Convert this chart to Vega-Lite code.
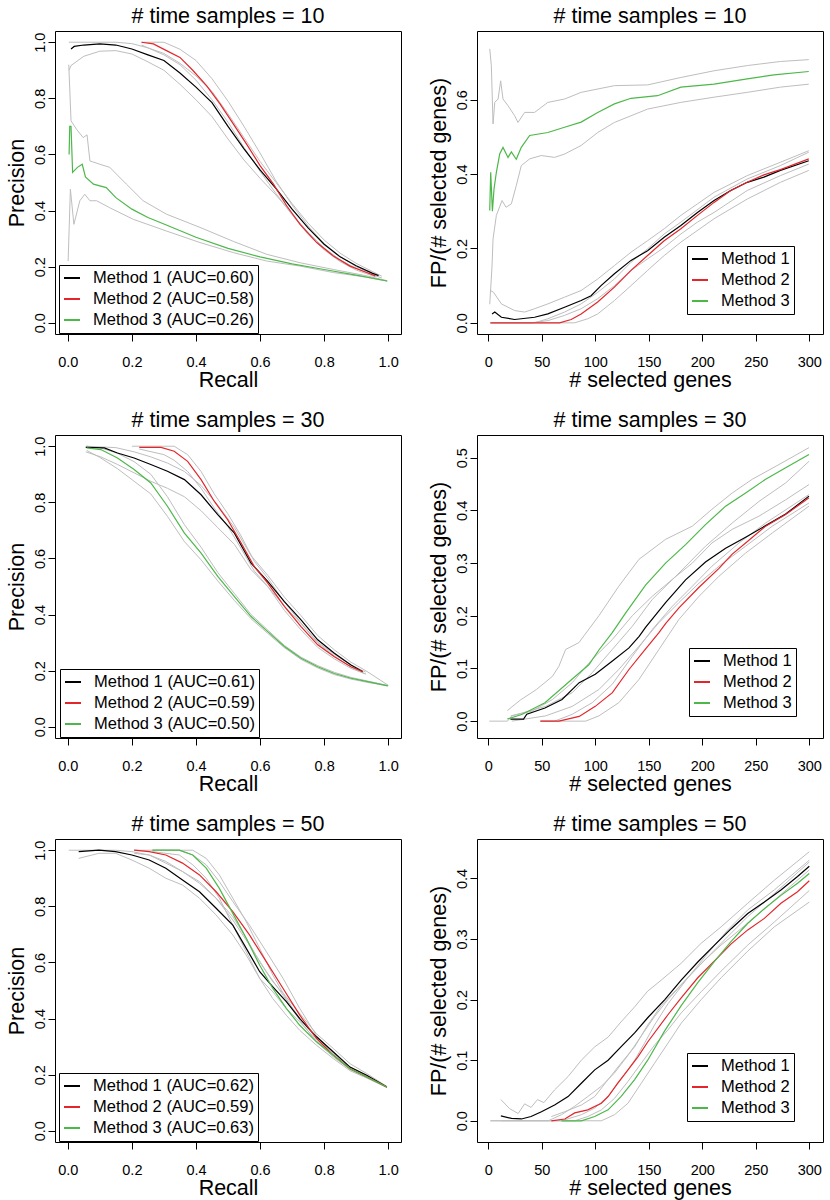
{
"$schema":"https://vega.github.io/schema/vega-lite/v6.json",
"background":"white",
"padding":{"left":5,"top":5,"right":5,"bottom":5},
"config":{
 "font":"Liberation Sans",
 "view":{"stroke":"#000","strokeWidth":1},
 "axis":{"grid":false,"domain":false,"ticks":true,"tickColor":"#000","tickSize":7,"tickWidth":1,"labelFont":"Liberation Sans","labelFontSize":14.5,"labelColor":"#000","titleFont":"Liberation Sans","titleFontSize":21.5,"titleFontWeight":"normal","titleColor":"#000","labelFlush":false,"labelOverlap":false},
 "axisX":{"labelPadding":14,"titlePadding":1},
 "axisY":{"labelAngle":-90,"labelAlign":"center","labelBaseline":"bottom","labelPadding":1,"titlePadding":4},
 "title":{"font":"Liberation Sans","fontSize":21.5,"fontWeight":"normal","color":"#000","offset":4,"baseline":"alphabetic","anchor":"middle","frame":"group"},
 "legend":{"labelFont":"Liberation Sans","labelFontSize":16.5,"labelColor":"#000","symbolType":"stroke","symbolStrokeWidth":2,"symbolSize":256,"strokeColor":"#000","fillColor":"#fff","padding":4,"rowPadding":3,"labelOffset":12,"labelLimit":400,"cornerRadius":0}
},
"datasets":{
"leg1":[{"m":1,"label":"Method 1 (AUC=0.60)"},{"m":2,"label":"Method 2 (AUC=0.58)"},{"m":3,"label":"Method 3 (AUC=0.26)"}],
"leg3":[{"m":1,"label":"Method 1 (AUC=0.61)"},{"m":2,"label":"Method 2 (AUC=0.59)"},{"m":3,"label":"Method 3 (AUC=0.50)"}],
"leg5":[{"m":1,"label":"Method 1 (AUC=0.62)"},{"m":2,"label":"Method 2 (AUC=0.59)"},{"m":3,"label":"Method 3 (AUC=0.63)"}],
"legR":[{"m":1,"label":"Method 1"},{"m":2,"label":"Method 2"},{"m":3,"label":"Method 3"}],
"curves":[
{"p":1,"m":1,"b":"e","x":0.01,"y":0.976},{"p":1,"m":1,"b":"e","x":0.02,"y":0.985},{"p":1,"m":1,"b":"e","x":0.05,"y":0.99},{"p":1,"m":1,"b":"e","x":0.1,"y":0.994},{"p":1,"m":1,"b":"e","x":0.15,"y":0.99},{"p":1,"m":1,"b":"e","x":0.2,"y":0.976},{"p":1,"m":1,"b":"e","x":0.25,"y":0.955},{"p":1,"m":1,"b":"e","x":0.3,"y":0.935},{"p":1,"m":1,"b":"e","x":0.35,"y":0.89},{"p":1,"m":1,"b":"e","x":0.4,"y":0.84},{"p":1,"m":1,"b":"e","x":0.45,"y":0.785},{"p":1,"m":1,"b":"e","x":0.5,"y":0.7},{"p":1,"m":1,"b":"e","x":0.55,"y":0.62},{"p":1,"m":1,"b":"e","x":0.6,"y":0.545},{"p":1,"m":1,"b":"e","x":0.65,"y":0.478},{"p":1,"m":1,"b":"e","x":0.7,"y":0.405},{"p":1,"m":1,"b":"e","x":0.75,"y":0.338},{"p":1,"m":1,"b":"e","x":0.8,"y":0.28},{"p":1,"m":1,"b":"e","x":0.85,"y":0.235},{"p":1,"m":1,"b":"e","x":0.9,"y":0.203},{"p":1,"m":1,"b":"e","x":0.95,"y":0.177},{"p":1,"m":1,"b":"e","x":0.97,"y":0.168},
{"p":1,"m":1,"b":"u","x":0.003,"y":1.0},{"p":1,"m":1,"b":"u","x":0.15,"y":1.0},{"p":1,"m":1,"b":"u","x":0.2,"y":0.995},{"p":1,"m":1,"b":"u","x":0.25,"y":0.98},{"p":1,"m":1,"b":"u","x":0.3,"y":0.96},{"p":1,"m":1,"b":"u","x":0.35,"y":0.925},{"p":1,"m":1,"b":"u","x":0.4,"y":0.88},{"p":1,"m":1,"b":"u","x":0.45,"y":0.825},{"p":1,"m":1,"b":"u","x":0.5,"y":0.745},{"p":1,"m":1,"b":"u","x":0.55,"y":0.66},{"p":1,"m":1,"b":"u","x":0.6,"y":0.575},{"p":1,"m":1,"b":"u","x":0.65,"y":0.5},{"p":1,"m":1,"b":"u","x":0.7,"y":0.425},{"p":1,"m":1,"b":"u","x":0.75,"y":0.355},{"p":1,"m":1,"b":"u","x":0.8,"y":0.295},{"p":1,"m":1,"b":"u","x":0.85,"y":0.248},{"p":1,"m":1,"b":"u","x":0.9,"y":0.212},{"p":1,"m":1,"b":"u","x":0.95,"y":0.183},{"p":1,"m":1,"b":"u","x":0.98,"y":0.166},
{"p":1,"m":1,"b":"l","x":0.004,"y":0.9},{"p":1,"m":1,"b":"l","x":0.01,"y":0.917},{"p":1,"m":1,"b":"l","x":0.05,"y":0.95},{"p":1,"m":1,"b":"l","x":0.1,"y":0.968},{"p":1,"m":1,"b":"l","x":0.15,"y":0.97},{"p":1,"m":1,"b":"l","x":0.2,"y":0.958},{"p":1,"m":1,"b":"l","x":0.25,"y":0.93},{"p":1,"m":1,"b":"l","x":0.3,"y":0.9},{"p":1,"m":1,"b":"l","x":0.35,"y":0.85},{"p":1,"m":1,"b":"l","x":0.4,"y":0.795},{"p":1,"m":1,"b":"l","x":0.45,"y":0.735},{"p":1,"m":1,"b":"l","x":0.5,"y":0.655},{"p":1,"m":1,"b":"l","x":0.55,"y":0.58},{"p":1,"m":1,"b":"l","x":0.6,"y":0.515},{"p":1,"m":1,"b":"l","x":0.65,"y":0.455},{"p":1,"m":1,"b":"l","x":0.7,"y":0.388},{"p":1,"m":1,"b":"l","x":0.75,"y":0.322},{"p":1,"m":1,"b":"l","x":0.8,"y":0.267},{"p":1,"m":1,"b":"l","x":0.85,"y":0.224},{"p":1,"m":1,"b":"l","x":0.9,"y":0.194},{"p":1,"m":1,"b":"l","x":0.95,"y":0.171},{"p":1,"m":1,"b":"l","x":0.98,"y":0.16},
{"p":1,"m":2,"b":"e","x":0.23,"y":1.0},{"p":1,"m":2,"b":"e","x":0.267,"y":0.994},{"p":1,"m":2,"b":"e","x":0.308,"y":0.97},{"p":1,"m":2,"b":"e","x":0.35,"y":0.946},{"p":1,"m":2,"b":"e","x":0.39,"y":0.9},{"p":1,"m":2,"b":"e","x":0.433,"y":0.845},{"p":1,"m":2,"b":"e","x":0.475,"y":0.78},{"p":1,"m":2,"b":"e","x":0.517,"y":0.708},{"p":1,"m":2,"b":"e","x":0.558,"y":0.637},{"p":1,"m":2,"b":"e","x":0.6,"y":0.56},{"p":1,"m":2,"b":"e","x":0.642,"y":0.494},{"p":1,"m":2,"b":"e","x":0.683,"y":0.417},{"p":1,"m":2,"b":"e","x":0.725,"y":0.351},{"p":1,"m":2,"b":"e","x":0.777,"y":0.286},{"p":1,"m":2,"b":"e","x":0.829,"y":0.238},{"p":1,"m":2,"b":"e","x":0.881,"y":0.202},{"p":1,"m":2,"b":"e","x":0.933,"y":0.179},{"p":1,"m":2,"b":"e","x":0.96,"y":0.167},
{"p":1,"m":2,"b":"u","x":0.23,"y":1.0},{"p":1,"m":2,"b":"u","x":0.3,"y":1.0},{"p":1,"m":2,"b":"u","x":0.35,"y":0.975},{"p":1,"m":2,"b":"u","x":0.4,"y":0.935},{"p":1,"m":2,"b":"u","x":0.45,"y":0.87},{"p":1,"m":2,"b":"u","x":0.5,"y":0.79},{"p":1,"m":2,"b":"u","x":0.55,"y":0.7},{"p":1,"m":2,"b":"u","x":0.6,"y":0.605},{"p":1,"m":2,"b":"u","x":0.65,"y":0.505},{"p":1,"m":2,"b":"u","x":0.7,"y":0.42},{"p":1,"m":2,"b":"u","x":0.75,"y":0.345},{"p":1,"m":2,"b":"u","x":0.8,"y":0.282},{"p":1,"m":2,"b":"u","x":0.85,"y":0.236},{"p":1,"m":2,"b":"u","x":0.9,"y":0.2},{"p":1,"m":2,"b":"u","x":0.96,"y":0.17},
{"p":1,"m":2,"b":"l","x":0.23,"y":0.99},{"p":1,"m":2,"b":"l","x":0.3,"y":0.955},{"p":1,"m":2,"b":"l","x":0.35,"y":0.92},{"p":1,"m":2,"b":"l","x":0.4,"y":0.865},{"p":1,"m":2,"b":"l","x":0.45,"y":0.795},{"p":1,"m":2,"b":"l","x":0.5,"y":0.715},{"p":1,"m":2,"b":"l","x":0.55,"y":0.625},{"p":1,"m":2,"b":"l","x":0.6,"y":0.54},{"p":1,"m":2,"b":"l","x":0.65,"y":0.46},{"p":1,"m":2,"b":"l","x":0.7,"y":0.385},{"p":1,"m":2,"b":"l","x":0.75,"y":0.315},{"p":1,"m":2,"b":"l","x":0.8,"y":0.26},{"p":1,"m":2,"b":"l","x":0.85,"y":0.218},{"p":1,"m":2,"b":"l","x":0.9,"y":0.188},{"p":1,"m":2,"b":"l","x":0.96,"y":0.164},
{"p":1,"m":3,"b":"e","x":0.004,"y":0.6},{"p":1,"m":3,"b":"e","x":0.006,"y":0.7},{"p":1,"m":3,"b":"e","x":0.01,"y":0.7},{"p":1,"m":3,"b":"e","x":0.015,"y":0.536},{"p":1,"m":3,"b":"e","x":0.03,"y":0.554},{"p":1,"m":3,"b":"e","x":0.045,"y":0.565},{"p":1,"m":3,"b":"e","x":0.055,"y":0.52},{"p":1,"m":3,"b":"e","x":0.08,"y":0.494},{"p":1,"m":3,"b":"e","x":0.12,"y":0.482},{"p":1,"m":3,"b":"e","x":0.15,"y":0.446},{"p":1,"m":3,"b":"e","x":0.2,"y":0.405},{"p":1,"m":3,"b":"e","x":0.25,"y":0.375},{"p":1,"m":3,"b":"e","x":0.3,"y":0.352},{"p":1,"m":3,"b":"e","x":0.4,"y":0.305},{"p":1,"m":3,"b":"e","x":0.5,"y":0.265},{"p":1,"m":3,"b":"e","x":0.6,"y":0.235},{"p":1,"m":3,"b":"e","x":0.7,"y":0.21},{"p":1,"m":3,"b":"e","x":0.8,"y":0.19},{"p":1,"m":3,"b":"e","x":0.9,"y":0.17},{"p":1,"m":3,"b":"e","x":0.997,"y":0.149},
{"p":1,"m":3,"b":"u","x":0.003,"y":0.92},{"p":1,"m":3,"b":"u","x":0.01,"y":0.72},{"p":1,"m":3,"b":"u","x":0.027,"y":0.69},{"p":1,"m":3,"b":"u","x":0.048,"y":0.66},{"p":1,"m":3,"b":"u","x":0.06,"y":0.67},{"p":1,"m":3,"b":"u","x":0.069,"y":0.577},{"p":1,"m":3,"b":"u","x":0.1,"y":0.565},{"p":1,"m":3,"b":"u","x":0.131,"y":0.554},{"p":1,"m":3,"b":"u","x":0.183,"y":0.494},{"p":1,"m":3,"b":"u","x":0.235,"y":0.435},{"p":1,"m":3,"b":"u","x":0.308,"y":0.387},{"p":1,"m":3,"b":"u","x":0.4125,"y":0.34},{"p":1,"m":3,"b":"u","x":0.517,"y":0.29},{"p":1,"m":3,"b":"u","x":0.621,"y":0.244},{"p":1,"m":3,"b":"u","x":0.725,"y":0.214},{"p":1,"m":3,"b":"u","x":0.829,"y":0.19},{"p":1,"m":3,"b":"u","x":0.93,"y":0.168},{"p":1,"m":3,"b":"u","x":0.997,"y":0.15},
{"p":1,"m":3,"b":"l","x":0.001,"y":0.22},{"p":1,"m":3,"b":"l","x":0.008,"y":0.476},{"p":1,"m":3,"b":"l","x":0.019,"y":0.351},{"p":1,"m":3,"b":"l","x":0.0375,"y":0.435},{"p":1,"m":3,"b":"l","x":0.053,"y":0.458},{"p":1,"m":3,"b":"l","x":0.069,"y":0.435},{"p":1,"m":3,"b":"l","x":0.09,"y":0.435},{"p":1,"m":3,"b":"l","x":0.131,"y":0.41},{"p":1,"m":3,"b":"l","x":0.204,"y":0.369},{"p":1,"m":3,"b":"l","x":0.308,"y":0.327},{"p":1,"m":3,"b":"l","x":0.4125,"y":0.286},{"p":1,"m":3,"b":"l","x":0.517,"y":0.25},{"p":1,"m":3,"b":"l","x":0.621,"y":0.22},{"p":1,"m":3,"b":"l","x":0.725,"y":0.202},{"p":1,"m":3,"b":"l","x":0.829,"y":0.179},{"p":1,"m":3,"b":"l","x":0.93,"y":0.163},{"p":1,"m":3,"b":"l","x":0.997,"y":0.148},

{"p":2,"m":1,"b":"e","x":3.6,"y":0.024},{"p":2,"m":1,"b":"e","x":6.1,"y":0.029},{"p":2,"m":1,"b":"e","x":12.3,"y":0.015},{"p":2,"m":1,"b":"e","x":24.7,"y":0.009},{"p":2,"m":1,"b":"e","x":43.3,"y":0.015},{"p":2,"m":1,"b":"e","x":55.7,"y":0.024},{"p":2,"m":1,"b":"e","x":71.3,"y":0.042},{"p":2,"m":1,"b":"e","x":86.8,"y":0.06},{"p":2,"m":1,"b":"e","x":96.1,"y":0.073},{"p":2,"m":1,"b":"e","x":105.4,"y":0.1},{"p":2,"m":1,"b":"e","x":117.9,"y":0.132},{"p":2,"m":1,"b":"e","x":133.4,"y":0.168},{"p":2,"m":1,"b":"e","x":148.9,"y":0.194},{"p":2,"m":1,"b":"e","x":164.4,"y":0.23},{"p":2,"m":1,"b":"e","x":180,"y":0.262},{"p":2,"m":1,"b":"e","x":195.5,"y":0.297},{"p":2,"m":1,"b":"e","x":211,"y":0.329},{"p":2,"m":1,"b":"e","x":226.6,"y":0.356},{"p":2,"m":1,"b":"e","x":242,"y":0.378},{"p":2,"m":1,"b":"e","x":257.6,"y":0.392},{"p":2,"m":1,"b":"e","x":273,"y":0.41},{"p":2,"m":1,"b":"e","x":299.5,"y":0.436},
{"p":2,"m":1,"b":"u","x":2,"y":0.087},{"p":2,"m":1,"b":"u","x":5,"y":0.082},{"p":2,"m":1,"b":"u","x":12.3,"y":0.051},{"p":2,"m":1,"b":"u","x":24.7,"y":0.033},{"p":2,"m":1,"b":"u","x":34,"y":0.029},{"p":2,"m":1,"b":"u","x":43.3,"y":0.038},{"p":2,"m":1,"b":"u","x":55.7,"y":0.051},{"p":2,"m":1,"b":"u","x":71.3,"y":0.069},{"p":2,"m":1,"b":"u","x":86.8,"y":0.087},{"p":2,"m":1,"b":"u","x":102.3,"y":0.118},{"p":2,"m":1,"b":"u","x":117.9,"y":0.154},{"p":2,"m":1,"b":"u","x":133.4,"y":0.19},{"p":2,"m":1,"b":"u","x":148.9,"y":0.221},{"p":2,"m":1,"b":"u","x":164.4,"y":0.253},{"p":2,"m":1,"b":"u","x":180,"y":0.289},{"p":2,"m":1,"b":"u","x":195.5,"y":0.32},{"p":2,"m":1,"b":"u","x":211,"y":0.351},{"p":2,"m":1,"b":"u","x":242,"y":0.396},{"p":2,"m":1,"b":"u","x":273,"y":0.432},{"p":2,"m":1,"b":"u","x":299.5,"y":0.463},
{"p":2,"m":1,"b":"l","x":3.6,"y":0.0},{"p":2,"m":1,"b":"l","x":40,"y":0.0},{"p":2,"m":1,"b":"l","x":55.7,"y":0.006},{"p":2,"m":1,"b":"l","x":71.3,"y":0.02},{"p":2,"m":1,"b":"l","x":86.8,"y":0.038},{"p":2,"m":1,"b":"l","x":102.3,"y":0.065},{"p":2,"m":1,"b":"l","x":117.9,"y":0.1},{"p":2,"m":1,"b":"l","x":133.4,"y":0.141},{"p":2,"m":1,"b":"l","x":148.9,"y":0.172},{"p":2,"m":1,"b":"l","x":164.4,"y":0.203},{"p":2,"m":1,"b":"l","x":180,"y":0.239},{"p":2,"m":1,"b":"l","x":195.5,"y":0.271},{"p":2,"m":1,"b":"l","x":211,"y":0.297},{"p":2,"m":1,"b":"l","x":242,"y":0.356},{"p":2,"m":1,"b":"l","x":273,"y":0.396},{"p":2,"m":1,"b":"l","x":299.5,"y":0.427},
{"p":2,"m":2,"b":"e","x":2,"y":0.0},{"p":2,"m":2,"b":"e","x":66.6,"y":0.0},{"p":2,"m":2,"b":"e","x":77.5,"y":0.009},{"p":2,"m":2,"b":"e","x":86.8,"y":0.024},{"p":2,"m":2,"b":"e","x":102.3,"y":0.056},{"p":2,"m":2,"b":"e","x":117.9,"y":0.096},{"p":2,"m":2,"b":"e","x":133.4,"y":0.141},{"p":2,"m":2,"b":"e","x":148.9,"y":0.181},{"p":2,"m":2,"b":"e","x":164.4,"y":0.221},{"p":2,"m":2,"b":"e","x":180,"y":0.253},{"p":2,"m":2,"b":"e","x":195.5,"y":0.289},{"p":2,"m":2,"b":"e","x":211,"y":0.324},{"p":2,"m":2,"b":"e","x":226.6,"y":0.356},{"p":2,"m":2,"b":"e","x":242,"y":0.378},{"p":2,"m":2,"b":"e","x":257.6,"y":0.398},{"p":2,"m":2,"b":"e","x":273,"y":0.412},{"p":2,"m":2,"b":"e","x":299.5,"y":0.441},
{"p":2,"m":2,"b":"u","x":2,"y":0.0},{"p":2,"m":2,"b":"u","x":43,"y":0.0},{"p":2,"m":2,"b":"u","x":55.7,"y":0.011},{"p":2,"m":2,"b":"u","x":71.3,"y":0.029},{"p":2,"m":2,"b":"u","x":86.8,"y":0.051},{"p":2,"m":2,"b":"u","x":102.3,"y":0.082},{"p":2,"m":2,"b":"u","x":117.9,"y":0.118},{"p":2,"m":2,"b":"u","x":133.4,"y":0.163},{"p":2,"m":2,"b":"u","x":148.9,"y":0.199},{"p":2,"m":2,"b":"u","x":164.4,"y":0.239},{"p":2,"m":2,"b":"u","x":180,"y":0.271},{"p":2,"m":2,"b":"u","x":211,"y":0.338},{"p":2,"m":2,"b":"u","x":242,"y":0.387},{"p":2,"m":2,"b":"u","x":273,"y":0.423},{"p":2,"m":2,"b":"u","x":299.5,"y":0.459},
{"p":2,"m":2,"b":"l","x":2,"y":0.0},{"p":2,"m":2,"b":"l","x":80.6,"y":0.0},{"p":2,"m":2,"b":"l","x":93,"y":0.011},{"p":2,"m":2,"b":"l","x":102.3,"y":0.024},{"p":2,"m":2,"b":"l","x":117.9,"y":0.06},{"p":2,"m":2,"b":"l","x":133.4,"y":0.1},{"p":2,"m":2,"b":"l","x":148.9,"y":0.141},{"p":2,"m":2,"b":"l","x":164.4,"y":0.181},{"p":2,"m":2,"b":"l","x":180,"y":0.217},{"p":2,"m":2,"b":"l","x":211,"y":0.28},{"p":2,"m":2,"b":"l","x":242,"y":0.333},{"p":2,"m":2,"b":"l","x":273,"y":0.378},{"p":2,"m":2,"b":"l","x":299.5,"y":0.41},
{"p":2,"m":3,"b":"e","x":1.4,"y":0.302},{"p":2,"m":3,"b":"e","x":2.3,"y":0.405},{"p":2,"m":3,"b":"e","x":3.9,"y":0.3},{"p":2,"m":3,"b":"e","x":5.4,"y":0.36},{"p":2,"m":3,"b":"e","x":7.6,"y":0.405},{"p":2,"m":3,"b":"e","x":10.7,"y":0.454},{"p":2,"m":3,"b":"e","x":13.8,"y":0.472},{"p":2,"m":3,"b":"e","x":18.5,"y":0.445},{"p":2,"m":3,"b":"e","x":21.6,"y":0.46},{"p":2,"m":3,"b":"e","x":26.2,"y":0.44},{"p":2,"m":3,"b":"e","x":30.9,"y":0.472},{"p":2,"m":3,"b":"e","x":38.7,"y":0.504},{"p":2,"m":3,"b":"e","x":55.7,"y":0.512},{"p":2,"m":3,"b":"e","x":71.3,"y":0.526},{"p":2,"m":3,"b":"e","x":86.8,"y":0.54},{"p":2,"m":3,"b":"e","x":102.3,"y":0.566},{"p":2,"m":3,"b":"e","x":117.9,"y":0.589},{"p":2,"m":3,"b":"e","x":133.4,"y":0.604},{"p":2,"m":3,"b":"e","x":158.2,"y":0.611},{"p":2,"m":3,"b":"e","x":180,"y":0.634},{"p":2,"m":3,"b":"e","x":211,"y":0.642},{"p":2,"m":3,"b":"e","x":242,"y":0.656},{"p":2,"m":3,"b":"e","x":266.9,"y":0.667},{"p":2,"m":3,"b":"e","x":299.5,"y":0.676},
{"p":2,"m":3,"b":"u","x":1.4,"y":0.737},{"p":2,"m":3,"b":"u","x":2.9,"y":0.692},{"p":2,"m":3,"b":"u","x":4.5,"y":0.535},{"p":2,"m":3,"b":"u","x":6.1,"y":0.593},{"p":2,"m":3,"b":"u","x":9.2,"y":0.602},{"p":2,"m":3,"b":"u","x":11.6,"y":0.651},{"p":2,"m":3,"b":"u","x":13.8,"y":0.602},{"p":2,"m":3,"b":"u","x":18.5,"y":0.584},{"p":2,"m":3,"b":"u","x":24.7,"y":0.557},{"p":2,"m":3,"b":"u","x":27.8,"y":0.539},{"p":2,"m":3,"b":"u","x":34,"y":0.566},{"p":2,"m":3,"b":"u","x":43.3,"y":0.566},{"p":2,"m":3,"b":"u","x":55.7,"y":0.593},{"p":2,"m":3,"b":"u","x":71.3,"y":0.602},{"p":2,"m":3,"b":"u","x":86.8,"y":0.62},{"p":2,"m":3,"b":"u","x":117.9,"y":0.638},{"p":2,"m":3,"b":"u","x":148.9,"y":0.64},{"p":2,"m":3,"b":"u","x":180,"y":0.66},{"p":2,"m":3,"b":"u","x":211,"y":0.678},{"p":2,"m":3,"b":"u","x":242,"y":0.692},{"p":2,"m":3,"b":"u","x":273,"y":0.703},{"p":2,"m":3,"b":"u","x":299.5,"y":0.708},
{"p":2,"m":3,"b":"l","x":1.4,"y":0.05},{"p":2,"m":3,"b":"l","x":3.5,"y":0.15},{"p":2,"m":3,"b":"l","x":4.5,"y":0.226},{"p":2,"m":3,"b":"l","x":7.6,"y":0.289},{"p":2,"m":3,"b":"l","x":12.9,"y":0.329},{"p":2,"m":3,"b":"l","x":16.6,"y":0.311},{"p":2,"m":3,"b":"l","x":21.6,"y":0.32},{"p":2,"m":3,"b":"l","x":26.2,"y":0.369},{"p":2,"m":3,"b":"l","x":30.9,"y":0.423},{"p":2,"m":3,"b":"l","x":38.7,"y":0.441},{"p":2,"m":3,"b":"l","x":49.5,"y":0.45},{"p":2,"m":3,"b":"l","x":62,"y":0.445},{"p":2,"m":3,"b":"l","x":71.3,"y":0.454},{"p":2,"m":3,"b":"l","x":86.8,"y":0.477},{"p":2,"m":3,"b":"l","x":102.3,"y":0.512},{"p":2,"m":3,"b":"l","x":117.9,"y":0.539},{"p":2,"m":3,"b":"l","x":133.4,"y":0.557},{"p":2,"m":3,"b":"l","x":148.9,"y":0.575},{"p":2,"m":3,"b":"l","x":180,"y":0.593},{"p":2,"m":3,"b":"l","x":211,"y":0.607},{"p":2,"m":3,"b":"l","x":242,"y":0.62},{"p":2,"m":3,"b":"l","x":273,"y":0.634},{"p":2,"m":3,"b":"l","x":299.5,"y":0.642},

{"p":3,"m":1,"b":"e","x":0.056,"y":0.996},{"p":3,"m":1,"b":"e","x":0.114,"y":0.994},{"p":3,"m":1,"b":"e","x":0.155,"y":0.976},{"p":3,"m":1,"b":"e","x":0.207,"y":0.958},{"p":3,"m":1,"b":"e","x":0.259,"y":0.935},{"p":3,"m":1,"b":"e","x":0.311,"y":0.911},{"p":3,"m":1,"b":"e","x":0.364,"y":0.881},{"p":3,"m":1,"b":"e","x":0.416,"y":0.827},{"p":3,"m":1,"b":"e","x":0.468,"y":0.756},{"p":3,"m":1,"b":"e","x":0.52,"y":0.69},{"p":3,"m":1,"b":"e","x":0.572,"y":0.583},{"p":3,"m":1,"b":"e","x":0.624,"y":0.518},{"p":3,"m":1,"b":"e","x":0.676,"y":0.446},{"p":3,"m":1,"b":"e","x":0.728,"y":0.381},{"p":3,"m":1,"b":"e","x":0.78,"y":0.31},{"p":3,"m":1,"b":"e","x":0.832,"y":0.262},{"p":3,"m":1,"b":"e","x":0.884,"y":0.22},{"p":3,"m":1,"b":"e","x":0.921,"y":0.196},
{"p":3,"m":1,"b":"u","x":0.056,"y":1.0},{"p":3,"m":1,"b":"u","x":0.15,"y":0.995},{"p":3,"m":1,"b":"u","x":0.207,"y":0.98},{"p":3,"m":1,"b":"u","x":0.259,"y":0.962},{"p":3,"m":1,"b":"u","x":0.311,"y":0.94},{"p":3,"m":1,"b":"u","x":0.364,"y":0.91},{"p":3,"m":1,"b":"u","x":0.416,"y":0.86},{"p":3,"m":1,"b":"u","x":0.468,"y":0.79},{"p":3,"m":1,"b":"u","x":0.52,"y":0.71},{"p":3,"m":1,"b":"u","x":0.572,"y":0.61},{"p":3,"m":1,"b":"u","x":0.624,"y":0.54},{"p":3,"m":1,"b":"u","x":0.676,"y":0.462},{"p":3,"m":1,"b":"u","x":0.728,"y":0.396},{"p":3,"m":1,"b":"u","x":0.78,"y":0.325},{"p":3,"m":1,"b":"u","x":0.832,"y":0.274},{"p":3,"m":1,"b":"u","x":0.884,"y":0.23},{"p":3,"m":1,"b":"u","x":0.93,"y":0.2},{"p":3,"m":1,"b":"u","x":1.0,"y":0.148},
{"p":3,"m":1,"b":"l","x":0.056,"y":0.98},{"p":3,"m":1,"b":"l","x":0.103,"y":0.962},{"p":3,"m":1,"b":"l","x":0.155,"y":0.935},{"p":3,"m":1,"b":"l","x":0.207,"y":0.905},{"p":3,"m":1,"b":"l","x":0.259,"y":0.875},{"p":3,"m":1,"b":"l","x":0.311,"y":0.85},{"p":3,"m":1,"b":"l","x":0.364,"y":0.82},{"p":3,"m":1,"b":"l","x":0.416,"y":0.77},{"p":3,"m":1,"b":"l","x":0.468,"y":0.71},{"p":3,"m":1,"b":"l","x":0.52,"y":0.65},{"p":3,"m":1,"b":"l","x":0.572,"y":0.56},{"p":3,"m":1,"b":"l","x":0.624,"y":0.5},{"p":3,"m":1,"b":"l","x":0.676,"y":0.43},{"p":3,"m":1,"b":"l","x":0.728,"y":0.368},{"p":3,"m":1,"b":"l","x":0.78,"y":0.298},{"p":3,"m":1,"b":"l","x":0.832,"y":0.252},{"p":3,"m":1,"b":"l","x":0.884,"y":0.212},{"p":3,"m":1,"b":"l","x":0.93,"y":0.188},
{"p":3,"m":2,"b":"e","x":0.223,"y":0.996},{"p":3,"m":2,"b":"e","x":0.291,"y":0.996},{"p":3,"m":2,"b":"e","x":0.332,"y":0.982},{"p":3,"m":2,"b":"e","x":0.374,"y":0.946},{"p":3,"m":2,"b":"e","x":0.416,"y":0.881},{"p":3,"m":2,"b":"e","x":0.457,"y":0.804},{"p":3,"m":2,"b":"e","x":0.499,"y":0.738},{"p":3,"m":2,"b":"e","x":0.541,"y":0.655},{"p":3,"m":2,"b":"e","x":0.582,"y":0.571},{"p":3,"m":2,"b":"e","x":0.624,"y":0.512},{"p":3,"m":2,"b":"e","x":0.676,"y":0.429},{"p":3,"m":2,"b":"e","x":0.728,"y":0.357},{"p":3,"m":2,"b":"e","x":0.78,"y":0.292},{"p":3,"m":2,"b":"e","x":0.832,"y":0.25},{"p":3,"m":2,"b":"e","x":0.884,"y":0.214},{"p":3,"m":2,"b":"e","x":0.921,"y":0.196},
{"p":3,"m":2,"b":"u","x":0.2,"y":1.0},{"p":3,"m":2,"b":"u","x":0.332,"y":1.0},{"p":3,"m":2,"b":"u","x":0.374,"y":0.97},{"p":3,"m":2,"b":"u","x":0.416,"y":0.91},{"p":3,"m":2,"b":"u","x":0.457,"y":0.83},{"p":3,"m":2,"b":"u","x":0.499,"y":0.76},{"p":3,"m":2,"b":"u","x":0.541,"y":0.68},{"p":3,"m":2,"b":"u","x":0.582,"y":0.59},{"p":3,"m":2,"b":"u","x":0.624,"y":0.53},{"p":3,"m":2,"b":"u","x":0.676,"y":0.445},{"p":3,"m":2,"b":"u","x":0.728,"y":0.37},{"p":3,"m":2,"b":"u","x":0.78,"y":0.302},{"p":3,"m":2,"b":"u","x":0.832,"y":0.258},{"p":3,"m":2,"b":"u","x":0.884,"y":0.22},{"p":3,"m":2,"b":"u","x":0.93,"y":0.195},
{"p":3,"m":2,"b":"l","x":0.223,"y":0.99},{"p":3,"m":2,"b":"l","x":0.3,"y":0.97},{"p":3,"m":2,"b":"l","x":0.332,"y":0.95},{"p":3,"m":2,"b":"l","x":0.374,"y":0.91},{"p":3,"m":2,"b":"l","x":0.416,"y":0.85},{"p":3,"m":2,"b":"l","x":0.457,"y":0.78},{"p":3,"m":2,"b":"l","x":0.499,"y":0.715},{"p":3,"m":2,"b":"l","x":0.541,"y":0.635},{"p":3,"m":2,"b":"l","x":0.582,"y":0.555},{"p":3,"m":2,"b":"l","x":0.624,"y":0.5},{"p":3,"m":2,"b":"l","x":0.676,"y":0.415},{"p":3,"m":2,"b":"l","x":0.728,"y":0.345},{"p":3,"m":2,"b":"l","x":0.78,"y":0.283},{"p":3,"m":2,"b":"l","x":0.832,"y":0.242},{"p":3,"m":2,"b":"l","x":0.884,"y":0.208},{"p":3,"m":2,"b":"l","x":0.93,"y":0.188},
{"p":3,"m":3,"b":"e","x":0.059,"y":0.994},{"p":3,"m":3,"b":"e","x":0.103,"y":0.988},{"p":3,"m":3,"b":"e","x":0.155,"y":0.958},{"p":3,"m":3,"b":"e","x":0.207,"y":0.917},{"p":3,"m":3,"b":"e","x":0.259,"y":0.869},{"p":3,"m":3,"b":"e","x":0.311,"y":0.786},{"p":3,"m":3,"b":"e","x":0.364,"y":0.69},{"p":3,"m":3,"b":"e","x":0.416,"y":0.619},{"p":3,"m":3,"b":"e","x":0.468,"y":0.536},{"p":3,"m":3,"b":"e","x":0.52,"y":0.464},{"p":3,"m":3,"b":"e","x":0.572,"y":0.393},{"p":3,"m":3,"b":"e","x":0.624,"y":0.339},{"p":3,"m":3,"b":"e","x":0.676,"y":0.286},{"p":3,"m":3,"b":"e","x":0.728,"y":0.244},{"p":3,"m":3,"b":"e","x":0.78,"y":0.214},{"p":3,"m":3,"b":"e","x":0.832,"y":0.19},{"p":3,"m":3,"b":"e","x":0.884,"y":0.173},{"p":3,"m":3,"b":"e","x":0.936,"y":0.161},{"p":3,"m":3,"b":"e","x":0.999,"y":0.146},
{"p":3,"m":3,"b":"u","x":0.059,"y":1.0},{"p":3,"m":3,"b":"u","x":0.1,"y":0.995},{"p":3,"m":3,"b":"u","x":0.155,"y":0.975},{"p":3,"m":3,"b":"u","x":0.207,"y":0.945},{"p":3,"m":3,"b":"u","x":0.259,"y":0.9},{"p":3,"m":3,"b":"u","x":0.311,"y":0.82},{"p":3,"m":3,"b":"u","x":0.364,"y":0.72},{"p":3,"m":3,"b":"u","x":0.416,"y":0.64},{"p":3,"m":3,"b":"u","x":0.468,"y":0.55},{"p":3,"m":3,"b":"u","x":0.52,"y":0.475},{"p":3,"m":3,"b":"u","x":0.572,"y":0.4},{"p":3,"m":3,"b":"u","x":0.624,"y":0.345},{"p":3,"m":3,"b":"u","x":0.676,"y":0.29},{"p":3,"m":3,"b":"u","x":0.728,"y":0.248},{"p":3,"m":3,"b":"u","x":0.78,"y":0.218},{"p":3,"m":3,"b":"u","x":0.832,"y":0.194},{"p":3,"m":3,"b":"u","x":0.884,"y":0.176},{"p":3,"m":3,"b":"u","x":0.936,"y":0.163},{"p":3,"m":3,"b":"u","x":1.0,"y":0.147},
{"p":3,"m":3,"b":"l","x":0.059,"y":0.985},{"p":3,"m":3,"b":"l","x":0.1,"y":0.96},{"p":3,"m":3,"b":"l","x":0.155,"y":0.92},{"p":3,"m":3,"b":"l","x":0.207,"y":0.875},{"p":3,"m":3,"b":"l","x":0.259,"y":0.83},{"p":3,"m":3,"b":"l","x":0.311,"y":0.75},{"p":3,"m":3,"b":"l","x":0.364,"y":0.66},{"p":3,"m":3,"b":"l","x":0.416,"y":0.595},{"p":3,"m":3,"b":"l","x":0.468,"y":0.52},{"p":3,"m":3,"b":"l","x":0.52,"y":0.45},{"p":3,"m":3,"b":"l","x":0.572,"y":0.385},{"p":3,"m":3,"b":"l","x":0.624,"y":0.333},{"p":3,"m":3,"b":"l","x":0.676,"y":0.282},{"p":3,"m":3,"b":"l","x":0.728,"y":0.24},{"p":3,"m":3,"b":"l","x":0.78,"y":0.21},{"p":3,"m":3,"b":"l","x":0.832,"y":0.186},{"p":3,"m":3,"b":"l","x":0.884,"y":0.17},{"p":3,"m":3,"b":"l","x":0.936,"y":0.158},{"p":3,"m":3,"b":"l","x":1.0,"y":0.146},

{"p":4,"m":1,"b":"e","x":20.7,"y":0.004},{"p":4,"m":1,"b":"e","x":33,"y":0.004},{"p":4,"m":1,"b":"e","x":36,"y":0.013},{"p":4,"m":1,"b":"e","x":53,"y":0.025},{"p":4,"m":1,"b":"e","x":69,"y":0.041},{"p":4,"m":1,"b":"e","x":85,"y":0.073},{"p":4,"m":1,"b":"e","x":100,"y":0.089},{"p":4,"m":1,"b":"e","x":116,"y":0.114},{"p":4,"m":1,"b":"e","x":131.5,"y":0.139},{"p":4,"m":1,"b":"e","x":141,"y":0.161},{"p":4,"m":1,"b":"e","x":147,"y":0.178},{"p":4,"m":1,"b":"e","x":165.7,"y":0.225},{"p":4,"m":1,"b":"e","x":184.4,"y":0.268},{"p":4,"m":1,"b":"e","x":203,"y":0.302},{"p":4,"m":1,"b":"e","x":221.8,"y":0.328},{"p":4,"m":1,"b":"e","x":240.5,"y":0.349},{"p":4,"m":1,"b":"e","x":259.2,"y":0.371},{"p":4,"m":1,"b":"e","x":277.9,"y":0.393},{"p":4,"m":1,"b":"e","x":299.7,"y":0.427},
{"p":4,"m":1,"b":"u","x":21,"y":0.01},{"p":4,"m":1,"b":"u","x":41,"y":0.019},{"p":4,"m":1,"b":"u","x":60,"y":0.041},{"p":4,"m":1,"b":"u","x":78.5,"y":0.073},{"p":4,"m":1,"b":"u","x":97,"y":0.117},{"p":4,"m":1,"b":"u","x":116,"y":0.155},{"p":4,"m":1,"b":"u","x":134.6,"y":0.2},{"p":4,"m":1,"b":"u","x":153.3,"y":0.237},{"p":4,"m":1,"b":"u","x":172,"y":0.269},{"p":4,"m":1,"b":"u","x":190.7,"y":0.3},{"p":4,"m":1,"b":"u","x":209,"y":0.338},{"p":4,"m":1,"b":"u","x":228,"y":0.364},{"p":4,"m":1,"b":"u","x":253,"y":0.389},{"p":4,"m":1,"b":"u","x":277.9,"y":0.42},{"p":4,"m":1,"b":"u","x":299.7,"y":0.449},
{"p":4,"m":1,"b":"l","x":22,"y":0.0},{"p":4,"m":1,"b":"l","x":53.6,"y":0.01},{"p":4,"m":1,"b":"l","x":78.5,"y":0.028},{"p":4,"m":1,"b":"l","x":103.4,"y":0.06},{"p":4,"m":1,"b":"l","x":122,"y":0.098},{"p":4,"m":1,"b":"l","x":140.8,"y":0.142},{"p":4,"m":1,"b":"l","x":159.5,"y":0.187},{"p":4,"m":1,"b":"l","x":178.2,"y":0.225},{"p":4,"m":1,"b":"l","x":197,"y":0.262},{"p":4,"m":1,"b":"l","x":215.6,"y":0.294},{"p":4,"m":1,"b":"l","x":240.5,"y":0.332},{"p":4,"m":1,"b":"l","x":265.4,"y":0.37},{"p":4,"m":1,"b":"l","x":299.7,"y":0.414},
{"p":4,"m":2,"b":"e","x":48.6,"y":0.0},{"p":4,"m":2,"b":"e","x":66,"y":0.0},{"p":4,"m":2,"b":"e","x":85,"y":0.009},{"p":4,"m":2,"b":"e","x":100,"y":0.028},{"p":4,"m":2,"b":"e","x":116,"y":0.054},{"p":4,"m":2,"b":"e","x":131.5,"y":0.098},{"p":4,"m":2,"b":"e","x":146.7,"y":0.136},{"p":4,"m":2,"b":"e","x":159.5,"y":0.168},{"p":4,"m":2,"b":"e","x":165.7,"y":0.185},{"p":4,"m":2,"b":"e","x":178.2,"y":0.215},{"p":4,"m":2,"b":"e","x":197,"y":0.254},{"p":4,"m":2,"b":"e","x":215.6,"y":0.29},{"p":4,"m":2,"b":"e","x":228,"y":0.317},{"p":4,"m":2,"b":"e","x":240.5,"y":0.338},{"p":4,"m":2,"b":"e","x":259.2,"y":0.37},{"p":4,"m":2,"b":"e","x":277.9,"y":0.392},{"p":4,"m":2,"b":"e","x":299.7,"y":0.424},
{"p":4,"m":2,"b":"u","x":49,"y":0.0},{"p":4,"m":2,"b":"u","x":62,"y":0.0},{"p":4,"m":2,"b":"u","x":78.5,"y":0.013},{"p":4,"m":2,"b":"u","x":97.2,"y":0.035},{"p":4,"m":2,"b":"u","x":115.9,"y":0.07},{"p":4,"m":2,"b":"u","x":134.6,"y":0.123},{"p":4,"m":2,"b":"u","x":153.3,"y":0.174},{"p":4,"m":2,"b":"u","x":172,"y":0.218},{"p":4,"m":2,"b":"u","x":190.7,"y":0.256},{"p":4,"m":2,"b":"u","x":209,"y":0.294},{"p":4,"m":2,"b":"u","x":234.3,"y":0.338},{"p":4,"m":2,"b":"u","x":259.2,"y":0.376},{"p":4,"m":2,"b":"u","x":299.7,"y":0.43},
{"p":4,"m":2,"b":"l","x":49,"y":0.0},{"p":4,"m":2,"b":"l","x":91,"y":0.0},{"p":4,"m":2,"b":"l","x":103.4,"y":0.01},{"p":4,"m":2,"b":"l","x":122,"y":0.035},{"p":4,"m":2,"b":"l","x":140.8,"y":0.079},{"p":4,"m":2,"b":"l","x":159.5,"y":0.136},{"p":4,"m":2,"b":"l","x":178.2,"y":0.193},{"p":4,"m":2,"b":"l","x":197,"y":0.237},{"p":4,"m":2,"b":"l","x":215.6,"y":0.275},{"p":4,"m":2,"b":"l","x":240.5,"y":0.319},{"p":4,"m":2,"b":"l","x":265.4,"y":0.357},{"p":4,"m":2,"b":"l","x":299.7,"y":0.408},
{"p":4,"m":3,"b":"e","x":17.8,"y":0.004},{"p":4,"m":3,"b":"e","x":31.8,"y":0.013},{"p":4,"m":3,"b":"e","x":53,"y":0.035},{"p":4,"m":3,"b":"e","x":78.5,"y":0.08},{"p":4,"m":3,"b":"e","x":94,"y":0.107},{"p":4,"m":3,"b":"e","x":103.4,"y":0.135},{"p":4,"m":3,"b":"e","x":115.9,"y":0.168},{"p":4,"m":3,"b":"e","x":128.3,"y":0.205},{"p":4,"m":3,"b":"e","x":147,"y":0.258},{"p":4,"m":3,"b":"e","x":165.7,"y":0.3},{"p":4,"m":3,"b":"e","x":184.4,"y":0.335},{"p":4,"m":3,"b":"e","x":203,"y":0.373},{"p":4,"m":3,"b":"e","x":221.8,"y":0.408},{"p":4,"m":3,"b":"e","x":240.5,"y":0.433},{"p":4,"m":3,"b":"e","x":259.2,"y":0.459},{"p":4,"m":3,"b":"e","x":277.9,"y":0.481},{"p":4,"m":3,"b":"e","x":299.7,"y":0.506},
{"p":4,"m":3,"b":"u","x":17.8,"y":0.02},{"p":4,"m":3,"b":"u","x":30,"y":0.04},{"p":4,"m":3,"b":"u","x":45,"y":0.06},{"p":4,"m":3,"b":"u","x":60,"y":0.085},{"p":4,"m":3,"b":"u","x":66,"y":0.104},{"p":4,"m":3,"b":"u","x":72.3,"y":0.136},{"p":4,"m":3,"b":"u","x":84.7,"y":0.149},{"p":4,"m":3,"b":"u","x":103.4,"y":0.2},{"p":4,"m":3,"b":"u","x":122,"y":0.256},{"p":4,"m":3,"b":"u","x":140.8,"y":0.307},{"p":4,"m":3,"b":"u","x":165.7,"y":0.345},{"p":4,"m":3,"b":"u","x":190.7,"y":0.37},{"p":4,"m":3,"b":"u","x":209,"y":0.402},{"p":4,"m":3,"b":"u","x":228,"y":0.433},{"p":4,"m":3,"b":"u","x":246.7,"y":0.459},{"p":4,"m":3,"b":"u","x":271.7,"y":0.487},{"p":4,"m":3,"b":"u","x":299.7,"y":0.519},
{"p":4,"m":3,"b":"l","x":1,"y":0.0},{"p":4,"m":3,"b":"l","x":18,"y":0.0},{"p":4,"m":3,"b":"l","x":22,"y":0.01},{"p":4,"m":3,"b":"l","x":53.6,"y":0.028},{"p":4,"m":3,"b":"l","x":78.5,"y":0.054},{"p":4,"m":3,"b":"l","x":97.2,"y":0.092},{"p":4,"m":3,"b":"l","x":115.9,"y":0.136},{"p":4,"m":3,"b":"l","x":134.6,"y":0.18},{"p":4,"m":3,"b":"l","x":153.3,"y":0.231},{"p":4,"m":3,"b":"l","x":178.2,"y":0.281},{"p":4,"m":3,"b":"l","x":203,"y":0.332},{"p":4,"m":3,"b":"l","x":228,"y":0.376},{"p":4,"m":3,"b":"l","x":253,"y":0.417},{"p":4,"m":3,"b":"l","x":277.9,"y":0.452},{"p":4,"m":3,"b":"l","x":299.7,"y":0.493},

{"p":5,"m":1,"b":"e","x":0.034,"y":0.995},{"p":5,"m":1,"b":"e","x":0.097,"y":1.0},{"p":5,"m":1,"b":"e","x":0.149,"y":0.995},{"p":5,"m":1,"b":"e","x":0.2,"y":0.983},{"p":5,"m":1,"b":"e","x":0.254,"y":0.965},{"p":5,"m":1,"b":"e","x":0.306,"y":0.936},{"p":5,"m":1,"b":"e","x":0.358,"y":0.894},{"p":5,"m":1,"b":"e","x":0.411,"y":0.852},{"p":5,"m":1,"b":"e","x":0.463,"y":0.793},{"p":5,"m":1,"b":"e","x":0.515,"y":0.733},{"p":5,"m":1,"b":"e","x":0.557,"y":0.65},{"p":5,"m":1,"b":"e","x":0.599,"y":0.567},{"p":5,"m":1,"b":"e","x":0.64,"y":0.513},{"p":5,"m":1,"b":"e","x":0.682,"y":0.46},{"p":5,"m":1,"b":"e","x":0.724,"y":0.4},{"p":5,"m":1,"b":"e","x":0.776,"y":0.335},{"p":5,"m":1,"b":"e","x":0.829,"y":0.281},{"p":5,"m":1,"b":"e","x":0.881,"y":0.227},{"p":5,"m":1,"b":"e","x":0.933,"y":0.198},{"p":5,"m":1,"b":"e","x":0.996,"y":0.156},
{"p":5,"m":1,"b":"u","x":0.003,"y":1.0},{"p":5,"m":1,"b":"u","x":0.149,"y":1.0},{"p":5,"m":1,"b":"u","x":0.2,"y":0.995},{"p":5,"m":1,"b":"u","x":0.254,"y":0.983},{"p":5,"m":1,"b":"u","x":0.306,"y":0.96},{"p":5,"m":1,"b":"u","x":0.358,"y":0.924},{"p":5,"m":1,"b":"u","x":0.411,"y":0.882},{"p":5,"m":1,"b":"u","x":0.463,"y":0.829},{"p":5,"m":1,"b":"u","x":0.515,"y":0.763},{"p":5,"m":1,"b":"u","x":0.557,"y":0.686},{"p":5,"m":1,"b":"u","x":0.599,"y":0.602},{"p":5,"m":1,"b":"u","x":0.64,"y":0.531},{"p":5,"m":1,"b":"u","x":0.682,"y":0.477},{"p":5,"m":1,"b":"u","x":0.724,"y":0.418},{"p":5,"m":1,"b":"u","x":0.776,"y":0.346},{"p":5,"m":1,"b":"u","x":0.829,"y":0.293},{"p":5,"m":1,"b":"u","x":0.881,"y":0.239},{"p":5,"m":1,"b":"u","x":0.933,"y":0.204},{"p":5,"m":1,"b":"u","x":0.996,"y":0.158},
{"p":5,"m":1,"b":"l","x":0.034,"y":0.971},{"p":5,"m":1,"b":"l","x":0.097,"y":0.989},{"p":5,"m":1,"b":"l","x":0.149,"y":0.989},{"p":5,"m":1,"b":"l","x":0.2,"y":0.965},{"p":5,"m":1,"b":"l","x":0.254,"y":0.936},{"p":5,"m":1,"b":"l","x":0.306,"y":0.9},{"p":5,"m":1,"b":"l","x":0.358,"y":0.876},{"p":5,"m":1,"b":"l","x":0.411,"y":0.829},{"p":5,"m":1,"b":"l","x":0.463,"y":0.769},{"p":5,"m":1,"b":"l","x":0.515,"y":0.698},{"p":5,"m":1,"b":"l","x":0.557,"y":0.626},{"p":5,"m":1,"b":"l","x":0.599,"y":0.543},{"p":5,"m":1,"b":"l","x":0.64,"y":0.495},{"p":5,"m":1,"b":"l","x":0.682,"y":0.436},{"p":5,"m":1,"b":"l","x":0.724,"y":0.388},{"p":5,"m":1,"b":"l","x":0.776,"y":0.323},{"p":5,"m":1,"b":"l","x":0.829,"y":0.269},{"p":5,"m":1,"b":"l","x":0.881,"y":0.221},{"p":5,"m":1,"b":"l","x":0.933,"y":0.192},{"p":5,"m":1,"b":"l","x":0.996,"y":0.154},
{"p":5,"m":2,"b":"e","x":0.207,"y":1.0},{"p":5,"m":2,"b":"e","x":0.254,"y":0.995},{"p":5,"m":2,"b":"e","x":0.306,"y":0.983},{"p":5,"m":2,"b":"e","x":0.358,"y":0.954},{"p":5,"m":2,"b":"e","x":0.411,"y":0.912},{"p":5,"m":2,"b":"e","x":0.463,"y":0.852},{"p":5,"m":2,"b":"e","x":0.515,"y":0.781},{"p":5,"m":2,"b":"e","x":0.567,"y":0.698},{"p":5,"m":2,"b":"e","x":0.62,"y":0.602},{"p":5,"m":2,"b":"e","x":0.672,"y":0.507},{"p":5,"m":2,"b":"e","x":0.724,"y":0.412},{"p":5,"m":2,"b":"e","x":0.776,"y":0.329},{"p":5,"m":2,"b":"e","x":0.829,"y":0.269},{"p":5,"m":2,"b":"e","x":0.881,"y":0.221},{"p":5,"m":2,"b":"e","x":0.933,"y":0.192},{"p":5,"m":2,"b":"e","x":0.996,"y":0.156},
{"p":5,"m":2,"b":"u","x":0.207,"y":1.0},{"p":5,"m":2,"b":"u","x":0.348,"y":1.0},{"p":5,"m":2,"b":"u","x":0.39,"y":0.983},{"p":5,"m":2,"b":"u","x":0.432,"y":0.948},{"p":5,"m":2,"b":"u","x":0.473,"y":0.888},{"p":5,"m":2,"b":"u","x":0.515,"y":0.817},{"p":5,"m":2,"b":"u","x":0.567,"y":0.733},{"p":5,"m":2,"b":"u","x":0.62,"y":0.638},{"p":5,"m":2,"b":"u","x":0.672,"y":0.543},{"p":5,"m":2,"b":"u","x":0.724,"y":0.436},{"p":5,"m":2,"b":"u","x":0.776,"y":0.34},{"p":5,"m":2,"b":"u","x":0.829,"y":0.278},{"p":5,"m":2,"b":"u","x":0.881,"y":0.226},{"p":5,"m":2,"b":"u","x":0.933,"y":0.196},{"p":5,"m":2,"b":"u","x":0.996,"y":0.157},
{"p":5,"m":2,"b":"l","x":0.207,"y":0.989},{"p":5,"m":2,"b":"l","x":0.254,"y":0.983},{"p":5,"m":2,"b":"l","x":0.306,"y":0.954},{"p":5,"m":2,"b":"l","x":0.358,"y":0.924},{"p":5,"m":2,"b":"l","x":0.411,"y":0.888},{"p":5,"m":2,"b":"l","x":0.463,"y":0.829},{"p":5,"m":2,"b":"l","x":0.515,"y":0.751},{"p":5,"m":2,"b":"l","x":0.567,"y":0.662},{"p":5,"m":2,"b":"l","x":0.62,"y":0.567},{"p":5,"m":2,"b":"l","x":0.672,"y":0.483},{"p":5,"m":2,"b":"l","x":0.724,"y":0.394},{"p":5,"m":2,"b":"l","x":0.776,"y":0.317},{"p":5,"m":2,"b":"l","x":0.829,"y":0.263},{"p":5,"m":2,"b":"l","x":0.881,"y":0.218},{"p":5,"m":2,"b":"l","x":0.933,"y":0.19},{"p":5,"m":2,"b":"l","x":0.996,"y":0.155},
{"p":5,"m":3,"b":"e","x":0.264,"y":1.0},{"p":5,"m":3,"b":"e","x":0.348,"y":1.0},{"p":5,"m":3,"b":"e","x":0.39,"y":0.983},{"p":5,"m":3,"b":"e","x":0.432,"y":0.936},{"p":5,"m":3,"b":"e","x":0.473,"y":0.864},{"p":5,"m":3,"b":"e","x":0.515,"y":0.775},{"p":5,"m":3,"b":"e","x":0.557,"y":0.686},{"p":5,"m":3,"b":"e","x":0.599,"y":0.59},{"p":5,"m":3,"b":"e","x":0.64,"y":0.507},{"p":5,"m":3,"b":"e","x":0.682,"y":0.436},{"p":5,"m":3,"b":"e","x":0.724,"y":0.376},{"p":5,"m":3,"b":"e","x":0.776,"y":0.317},{"p":5,"m":3,"b":"e","x":0.829,"y":0.269},{"p":5,"m":3,"b":"e","x":0.881,"y":0.221},{"p":5,"m":3,"b":"e","x":0.933,"y":0.192},{"p":5,"m":3,"b":"e","x":0.996,"y":0.156},
{"p":5,"m":3,"b":"u","x":0.264,"y":1.0},{"p":5,"m":3,"b":"u","x":0.39,"y":1.0},{"p":5,"m":3,"b":"u","x":0.432,"y":0.971},{"p":5,"m":3,"b":"u","x":0.473,"y":0.912},{"p":5,"m":3,"b":"u","x":0.515,"y":0.829},{"p":5,"m":3,"b":"u","x":0.557,"y":0.745},{"p":5,"m":3,"b":"u","x":0.599,"y":0.65},{"p":5,"m":3,"b":"u","x":0.64,"y":0.555},{"p":5,"m":3,"b":"u","x":0.682,"y":0.471},{"p":5,"m":3,"b":"u","x":0.724,"y":0.4},{"p":5,"m":3,"b":"u","x":0.776,"y":0.329},{"p":5,"m":3,"b":"u","x":0.829,"y":0.275},{"p":5,"m":3,"b":"u","x":0.881,"y":0.226},{"p":5,"m":3,"b":"u","x":0.933,"y":0.195},{"p":5,"m":3,"b":"u","x":0.996,"y":0.157},
{"p":5,"m":3,"b":"l","x":0.264,"y":0.995},{"p":5,"m":3,"b":"l","x":0.348,"y":0.983},{"p":5,"m":3,"b":"l","x":0.39,"y":0.948},{"p":5,"m":3,"b":"l","x":0.432,"y":0.9},{"p":5,"m":3,"b":"l","x":0.473,"y":0.829},{"p":5,"m":3,"b":"l","x":0.515,"y":0.733},{"p":5,"m":3,"b":"l","x":0.557,"y":0.638},{"p":5,"m":3,"b":"l","x":0.599,"y":0.543},{"p":5,"m":3,"b":"l","x":0.64,"y":0.471},{"p":5,"m":3,"b":"l","x":0.682,"y":0.412},{"p":5,"m":3,"b":"l","x":0.724,"y":0.358},{"p":5,"m":3,"b":"l","x":0.776,"y":0.305},{"p":5,"m":3,"b":"l","x":0.829,"y":0.257},{"p":5,"m":3,"b":"l","x":0.881,"y":0.214},{"p":5,"m":3,"b":"l","x":0.933,"y":0.188},{"p":5,"m":3,"b":"l","x":0.996,"y":0.154},

{"p":6,"m":1,"b":"e","x":11.8,"y":0.008},{"p":6,"m":1,"b":"e","x":21.8,"y":0.004},{"p":6,"m":1,"b":"e","x":31,"y":0.003},{"p":6,"m":1,"b":"e","x":40,"y":0.007},{"p":6,"m":1,"b":"e","x":49.7,"y":0.015},{"p":6,"m":1,"b":"e","x":62,"y":0.026},{"p":6,"m":1,"b":"e","x":74.6,"y":0.04},{"p":6,"m":1,"b":"e","x":87,"y":0.062},{"p":6,"m":1,"b":"e","x":99.5,"y":0.084},{"p":6,"m":1,"b":"e","x":112,"y":0.1},{"p":6,"m":1,"b":"e","x":124,"y":0.122},{"p":6,"m":1,"b":"e","x":136.8,"y":0.145},{"p":6,"m":1,"b":"e","x":149,"y":0.17},{"p":6,"m":1,"b":"e","x":165,"y":0.2},{"p":6,"m":1,"b":"e","x":180.3,"y":0.232},{"p":6,"m":1,"b":"e","x":195.8,"y":0.262},{"p":6,"m":1,"b":"e","x":211.4,"y":0.29},{"p":6,"m":1,"b":"e","x":227,"y":0.317},{"p":6,"m":1,"b":"e","x":242.5,"y":0.342},{"p":6,"m":1,"b":"e","x":258,"y":0.361},{"p":6,"m":1,"b":"e","x":273.5,"y":0.381},{"p":6,"m":1,"b":"e","x":289,"y":0.403},{"p":6,"m":1,"b":"e","x":300,"y":0.42},
{"p":6,"m":1,"b":"u","x":11.8,"y":0.035},{"p":6,"m":1,"b":"u","x":20,"y":0.02},{"p":6,"m":1,"b":"u","x":28,"y":0.012},{"p":6,"m":1,"b":"u","x":34,"y":0.028},{"p":6,"m":1,"b":"u","x":40,"y":0.022},{"p":6,"m":1,"b":"u","x":46,"y":0.035},{"p":6,"m":1,"b":"u","x":52,"y":0.03},{"p":6,"m":1,"b":"u","x":62,"y":0.051},{"p":6,"m":1,"b":"u","x":74.6,"y":0.073},{"p":6,"m":1,"b":"u","x":87,"y":0.1},{"p":6,"m":1,"b":"u","x":99.5,"y":0.122},{"p":6,"m":1,"b":"u","x":112,"y":0.138},{"p":6,"m":1,"b":"u","x":124,"y":0.163},{"p":6,"m":1,"b":"u","x":136.8,"y":0.188},{"p":6,"m":1,"b":"u","x":149,"y":0.214},{"p":6,"m":1,"b":"u","x":161.6,"y":0.232},{"p":6,"m":1,"b":"u","x":180.3,"y":0.26},{"p":6,"m":1,"b":"u","x":199,"y":0.293},{"p":6,"m":1,"b":"u","x":217.6,"y":0.32},{"p":6,"m":1,"b":"u","x":242.5,"y":0.359},{"p":6,"m":1,"b":"u","x":267.3,"y":0.397},{"p":6,"m":1,"b":"u","x":300,"y":0.444},
{"p":6,"m":1,"b":"l","x":11.8,"y":0.0},{"p":6,"m":1,"b":"l","x":56,"y":0.0},{"p":6,"m":1,"b":"l","x":68.4,"y":0.01},{"p":6,"m":1,"b":"l","x":80.8,"y":0.024},{"p":6,"m":1,"b":"l","x":93,"y":0.04},{"p":6,"m":1,"b":"l","x":105.7,"y":0.057},{"p":6,"m":1,"b":"l","x":118,"y":0.079},{"p":6,"m":1,"b":"l","x":130.6,"y":0.108},{"p":6,"m":1,"b":"l","x":143,"y":0.14},{"p":6,"m":1,"b":"l","x":155.4,"y":0.172},{"p":6,"m":1,"b":"l","x":167.9,"y":0.2},{"p":6,"m":1,"b":"l","x":186.5,"y":0.236},{"p":6,"m":1,"b":"l","x":205,"y":0.27},{"p":6,"m":1,"b":"l","x":223.8,"y":0.304},{"p":6,"m":1,"b":"l","x":242.5,"y":0.337},{"p":6,"m":1,"b":"l","x":267.3,"y":0.375},{"p":6,"m":1,"b":"l","x":300,"y":0.427},
{"p":6,"m":2,"b":"e","x":59,"y":0.0},{"p":6,"m":2,"b":"e","x":71.5,"y":0.003},{"p":6,"m":2,"b":"e","x":80.8,"y":0.013},{"p":6,"m":2,"b":"e","x":93,"y":0.018},{"p":6,"m":2,"b":"e","x":105.7,"y":0.029},{"p":6,"m":2,"b":"e","x":112,"y":0.04},{"p":6,"m":2,"b":"e","x":121,"y":0.062},{"p":6,"m":2,"b":"e","x":130.6,"y":0.084},{"p":6,"m":2,"b":"e","x":140,"y":0.106},{"p":6,"m":2,"b":"e","x":149,"y":0.13},{"p":6,"m":2,"b":"e","x":167.9,"y":0.175},{"p":6,"m":2,"b":"e","x":180.3,"y":0.203},{"p":6,"m":2,"b":"e","x":195.8,"y":0.236},{"p":6,"m":2,"b":"e","x":211.4,"y":0.264},{"p":6,"m":2,"b":"e","x":227,"y":0.292},{"p":6,"m":2,"b":"e","x":242.5,"y":0.315},{"p":6,"m":2,"b":"e","x":258,"y":0.334},{"p":6,"m":2,"b":"e","x":273.5,"y":0.359},{"p":6,"m":2,"b":"e","x":289,"y":0.378},{"p":6,"m":2,"b":"e","x":300,"y":0.396},
{"p":6,"m":2,"b":"u","x":59,"y":0.007},{"p":6,"m":2,"b":"u","x":71.5,"y":0.015},{"p":6,"m":2,"b":"u","x":87,"y":0.026},{"p":6,"m":2,"b":"u","x":99.5,"y":0.04},{"p":6,"m":2,"b":"u","x":112,"y":0.068},{"p":6,"m":2,"b":"u","x":124,"y":0.095},{"p":6,"m":2,"b":"u","x":136.8,"y":0.122},{"p":6,"m":2,"b":"u","x":149,"y":0.158},{"p":6,"m":2,"b":"u","x":161.6,"y":0.19},{"p":6,"m":2,"b":"u","x":180.3,"y":0.225},{"p":6,"m":2,"b":"u","x":199,"y":0.26},{"p":6,"m":2,"b":"u","x":217.6,"y":0.29},{"p":6,"m":2,"b":"u","x":242.5,"y":0.326},{"p":6,"m":2,"b":"u","x":267.3,"y":0.364},{"p":6,"m":2,"b":"u","x":300,"y":0.414},
{"p":6,"m":2,"b":"l","x":2,"y":0.0},{"p":6,"m":2,"b":"l","x":80.8,"y":0.0},{"p":6,"m":2,"b":"l","x":93,"y":0.007},{"p":6,"m":2,"b":"l","x":105.7,"y":0.018},{"p":6,"m":2,"b":"l","x":118,"y":0.037},{"p":6,"m":2,"b":"l","x":130.6,"y":0.065},{"p":6,"m":2,"b":"l","x":143,"y":0.095},{"p":6,"m":2,"b":"l","x":155.4,"y":0.125},{"p":6,"m":2,"b":"l","x":167.9,"y":0.15},{"p":6,"m":2,"b":"l","x":180.3,"y":0.178},{"p":6,"m":2,"b":"l","x":199,"y":0.213},{"p":6,"m":2,"b":"l","x":217.6,"y":0.247},{"p":6,"m":2,"b":"l","x":242.5,"y":0.29},{"p":6,"m":2,"b":"l","x":267.3,"y":0.328},{"p":6,"m":2,"b":"l","x":300,"y":0.38},
{"p":6,"m":3,"b":"e","x":68.4,"y":0.0},{"p":6,"m":3,"b":"e","x":87,"y":0.0},{"p":6,"m":3,"b":"e","x":99.5,"y":0.007},{"p":6,"m":3,"b":"e","x":112,"y":0.018},{"p":6,"m":3,"b":"e","x":124,"y":0.04},{"p":6,"m":3,"b":"e","x":136.8,"y":0.068},{"p":6,"m":3,"b":"e","x":149,"y":0.1},{"p":6,"m":3,"b":"e","x":164.7,"y":0.148},{"p":6,"m":3,"b":"e","x":180.3,"y":0.19},{"p":6,"m":3,"b":"e","x":195.8,"y":0.228},{"p":6,"m":3,"b":"e","x":211.4,"y":0.263},{"p":6,"m":3,"b":"e","x":227,"y":0.296},{"p":6,"m":3,"b":"e","x":242.5,"y":0.326},{"p":6,"m":3,"b":"e","x":258,"y":0.35},{"p":6,"m":3,"b":"e","x":273.5,"y":0.372},{"p":6,"m":3,"b":"e","x":289,"y":0.392},{"p":6,"m":3,"b":"e","x":300,"y":0.408},
{"p":6,"m":3,"b":"u","x":68.4,"y":0.0},{"p":6,"m":3,"b":"u","x":87,"y":0.01},{"p":6,"m":3,"b":"u","x":99.5,"y":0.021},{"p":6,"m":3,"b":"u","x":112,"y":0.04},{"p":6,"m":3,"b":"u","x":124,"y":0.068},{"p":6,"m":3,"b":"u","x":136.8,"y":0.1},{"p":6,"m":3,"b":"u","x":146,"y":0.128},{"p":6,"m":3,"b":"u","x":155.4,"y":0.158},{"p":6,"m":3,"b":"u","x":167.9,"y":0.193},{"p":6,"m":3,"b":"u","x":186.5,"y":0.236},{"p":6,"m":3,"b":"u","x":205,"y":0.276},{"p":6,"m":3,"b":"u","x":223.8,"y":0.315},{"p":6,"m":3,"b":"u","x":242.5,"y":0.348},{"p":6,"m":3,"b":"u","x":267.3,"y":0.381},{"p":6,"m":3,"b":"u","x":300,"y":0.43},
{"p":6,"m":3,"b":"l","x":2,"y":0.0},{"p":6,"m":3,"b":"l","x":105.7,"y":0.0},{"p":6,"m":3,"b":"l","x":118,"y":0.01},{"p":6,"m":3,"b":"l","x":130.6,"y":0.029},{"p":6,"m":3,"b":"l","x":143,"y":0.062},{"p":6,"m":3,"b":"l","x":155.4,"y":0.095},{"p":6,"m":3,"b":"l","x":167.9,"y":0.128},{"p":6,"m":3,"b":"l","x":180.3,"y":0.161},{"p":6,"m":3,"b":"l","x":199,"y":0.2},{"p":6,"m":3,"b":"l","x":217.6,"y":0.236},{"p":6,"m":3,"b":"l","x":242.5,"y":0.28},{"p":6,"m":3,"b":"l","x":267.3,"y":0.32},{"p":6,"m":3,"b":"l","x":300,"y":0.361}
]
},
"columns":2,
"spacing":{"row":101,"column":76},
"bounds":"flush",
"resolve":{"scale":{"color":"independent"},"legend":{"color":"independent"}},
"concat":[
 {"width":346,"height":303,"title":"# time samples = 10","data":{"name":"curves"},"transform":[{"filter":"datum.p==1"}],
  "encoding":{"x":{"field":"x","type":"quantitative","scale":{"domain":[-0.04,1.04],"nice":false,"zero":false},"axis":{"title":"Recall","values":[0,0.2,0.4,0.6,0.8,1],"format":".1f"}},
   "y":{"field":"y","type":"quantitative","scale":{"domain":[-0.04,1.04],"nice":false,"zero":false},"axis":{"title":"Precision","values":[0,0.2,0.4,0.6,0.8,1],"format":".1f"}}},
  "layer":[
   {"transform":[{"filter":"datum.b!='e'"}],"mark":{"type":"line","color":"#bebebe","strokeWidth":1,"clip":true},"encoding":{"detail":[{"field":"m","type":"nominal"},{"field":"b","type":"nominal"}]}},
   {"transform":[{"filter":"datum.b=='e'"},{"lookup":"m","from":{"data":{"name":"leg1"},"key":"m","fields":["label"]}}],"mark":{"type":"line","strokeWidth":1.2,"clip":true},
    "encoding":{"color":{"field":"label","type":"nominal","scale":{"domain":["Method 1 (AUC=0.60)","Method 2 (AUC=0.58)","Method 3 (AUC=0.26)"],"range":["#000000","#e3262b","#4db84a"]},"legend":{"title":null,"orient":"none","legendX":4,"legendY":234}}}}
  ]},
 {"width":346,"height":303,"title":"# time samples = 10","data":{"name":"curves"},"transform":[{"filter":"datum.p==2"}],
  "encoding":{"x":{"field":"x","type":"quantitative","scale":{"domain":[-10.5,312.8],"nice":false,"zero":false},"axis":{"title":"# selected genes","values":[0,50,100,150,200,250,300],"format":"d"}},
   "y":{"field":"y","type":"quantitative","scale":{"domain":[-0.03,0.785],"nice":false,"zero":false},"axis":{"title":"FP/(# selected genes)","values":[0,0.2,0.4,0.6],"format":".1f"}}},
  "layer":[
   {"transform":[{"filter":"datum.b!='e'"}],"mark":{"type":"line","color":"#bebebe","strokeWidth":1,"clip":true},"encoding":{"detail":[{"field":"m","type":"nominal"},{"field":"b","type":"nominal"}]}},
   {"transform":[{"filter":"datum.b=='e'"},{"lookup":"m","from":{"data":{"name":"legR"},"key":"m","fields":["label"]}}],"mark":{"type":"line","strokeWidth":1.2,"clip":true},
    "encoding":{"color":{"field":"label","type":"nominal","scale":{"domain":["Method 1","Method 2","Method 3"],"range":["#000000","#e3262b","#4db84a"]},"legend":{"title":null,"orient":"none","legendX":210,"legendY":215}}}}
  ]},
 {"width":346,"height":303,"title":"# time samples = 30","data":{"name":"curves"},"transform":[{"filter":"datum.p==3"}],
  "encoding":{"x":{"field":"x","type":"quantitative","scale":{"domain":[-0.04,1.04],"nice":false,"zero":false},"axis":{"title":"Recall","values":[0,0.2,0.4,0.6,0.8,1],"format":".1f"}},
   "y":{"field":"y","type":"quantitative","scale":{"domain":[-0.04,1.04],"nice":false,"zero":false},"axis":{"title":"Precision","values":[0,0.2,0.4,0.6,0.8,1],"format":".1f"}}},
  "layer":[
   {"transform":[{"filter":"datum.b!='e'"}],"mark":{"type":"line","color":"#bebebe","strokeWidth":1,"clip":true},"encoding":{"detail":[{"field":"m","type":"nominal"},{"field":"b","type":"nominal"}]}},
   {"transform":[{"filter":"datum.b=='e'"},{"lookup":"m","from":{"data":{"name":"leg3"},"key":"m","fields":["label"]}}],"mark":{"type":"line","strokeWidth":1.2,"clip":true},
    "encoding":{"color":{"field":"label","type":"nominal","scale":{"domain":["Method 1 (AUC=0.61)","Method 2 (AUC=0.59)","Method 3 (AUC=0.50)"],"range":["#000000","#e3262b","#4db84a"]},"legend":{"title":null,"orient":"none","legendX":5,"legendY":234}}}}
  ]},
 {"width":346,"height":303,"title":"# time samples = 30","data":{"name":"curves"},"transform":[{"filter":"datum.p==4"}],
  "encoding":{"x":{"field":"x","type":"quantitative","scale":{"domain":[-10.5,312.8],"nice":false,"zero":false},"axis":{"title":"# selected genes","values":[0,50,100,150,200,250,300],"format":"d"}},
   "y":{"field":"y","type":"quantitative","scale":{"domain":[-0.032,0.543],"nice":false,"zero":false},"axis":{"title":"FP/(# selected genes)","values":[0,0.1,0.2,0.3,0.4,0.5],"format":".1f"}}},
  "layer":[
   {"transform":[{"filter":"datum.b!='e'"}],"mark":{"type":"line","color":"#bebebe","strokeWidth":1,"clip":true},"encoding":{"detail":[{"field":"m","type":"nominal"},{"field":"b","type":"nominal"}]}},
   {"transform":[{"filter":"datum.b=='e'"},{"lookup":"m","from":{"data":{"name":"legR"},"key":"m","fields":["label"]}}],"mark":{"type":"line","strokeWidth":1.2,"clip":true},
    "encoding":{"color":{"field":"label","type":"nominal","scale":{"domain":["Method 1","Method 2","Method 3"],"range":["#000000","#e3262b","#4db84a"]},"legend":{"title":null,"orient":"none","legendX":212,"legendY":213}}}}
  ]},
 {"width":346,"height":303,"title":"# time samples = 50","data":{"name":"curves"},"transform":[{"filter":"datum.p==5"}],
  "encoding":{"x":{"field":"x","type":"quantitative","scale":{"domain":[-0.04,1.04],"nice":false,"zero":false},"axis":{"title":"Recall","values":[0,0.2,0.4,0.6,0.8,1],"format":".1f"}},
   "y":{"field":"y","type":"quantitative","scale":{"domain":[-0.04,1.04],"nice":false,"zero":false},"axis":{"title":"Precision","values":[0,0.2,0.4,0.6,0.8,1],"format":".1f"}}},
  "layer":[
   {"transform":[{"filter":"datum.b!='e'"}],"mark":{"type":"line","color":"#bebebe","strokeWidth":1,"clip":true},"encoding":{"detail":[{"field":"m","type":"nominal"},{"field":"b","type":"nominal"}]}},
   {"transform":[{"filter":"datum.b=='e'"},{"lookup":"m","from":{"data":{"name":"leg5"},"key":"m","fields":["label"]}}],"mark":{"type":"line","strokeWidth":1.2,"clip":true},
    "encoding":{"color":{"field":"label","type":"nominal","scale":{"domain":["Method 1 (AUC=0.62)","Method 2 (AUC=0.59)","Method 3 (AUC=0.63)"],"range":["#000000","#e3262b","#4db84a"]},"legend":{"title":null,"orient":"none","legendX":4,"legendY":234}}}}
  ]},
 {"width":346,"height":303,"title":"# time samples = 50","data":{"name":"curves"},"transform":[{"filter":"datum.p==6"}],
  "encoding":{"x":{"field":"x","type":"quantitative","scale":{"domain":[-10.5,312.8],"nice":false,"zero":false},"axis":{"title":"# selected genes","values":[0,50,100,150,200,250,300],"format":"d"}},
   "y":{"field":"y","type":"quantitative","scale":{"domain":[-0.035,0.465],"nice":false,"zero":false},"axis":{"title":"FP/(# selected genes)","values":[0,0.1,0.2,0.3,0.4],"format":".1f"}}},
  "layer":[
   {"transform":[{"filter":"datum.b!='e'"}],"mark":{"type":"line","color":"#bebebe","strokeWidth":1,"clip":true},"encoding":{"detail":[{"field":"m","type":"nominal"},{"field":"b","type":"nominal"}]}},
   {"transform":[{"filter":"datum.b=='e'"},{"lookup":"m","from":{"data":{"name":"legR"},"key":"m","fields":["label"]}}],"mark":{"type":"line","strokeWidth":1.2,"clip":true},
    "encoding":{"color":{"field":"label","type":"nominal","scale":{"domain":["Method 1","Method 2","Method 3"],"range":["#000000","#e3262b","#4db84a"]},"legend":{"title":null,"orient":"none","legendX":210,"legendY":214}}}}
  ]}
]
}
